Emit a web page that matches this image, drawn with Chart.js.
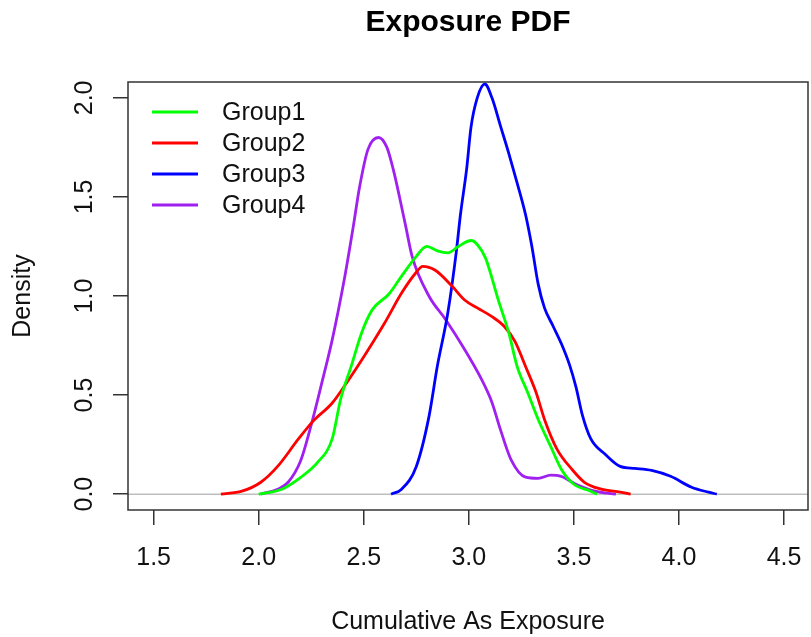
<!DOCTYPE html>
<html>
<head>
<meta charset="utf-8">
<script src="https://cdn.jsdelivr.net/npm/chart.js@4.4.1/dist/chart.umd.min.js"></script>
<style>
html, body { margin: 0; padding: 0; background: #fff; overflow: hidden; }
canvas { display: block; }
</style>
</head>
<body>
<canvas id="c" width="811" height="637" style="width:811px;height:637px"></canvas>
<script>
// ---- data ----
const seriesNames = ['Group1', 'Group2', 'Group3', 'Group4'];
const seriesColors = ['#00ff00', '#ff0000', '#0000ff', '#a020f0'];

const g1X = [2.00, 2.11, 2.20, 2.28, 2.35, 2.39, 2.44, 2.49, 2.54, 2.62, 2.68, 2.75, 2.80, 2.85, 2.90, 2.95, 3.01, 3.04, 3.08, 3.11, 3.14, 3.19, 3.23, 3.28, 3.33, 3.39, 3.44, 3.50, 3.58, 3.61];
const g1Y = [0, 0.025, 0.085, 0.16, 0.28, 0.48, 0.645, 0.815, 0.93, 1.01, 1.10, 1.20, 1.25, 1.228, 1.218, 1.25, 1.28, 1.26, 1.19, 1.09, 0.98, 0.815, 0.644, 0.513, 0.377, 0.24, 0.126, 0.05, 0.015, 0];

const g2X = [1.82, 1.92, 2.01, 2.09, 2.19, 2.26, 2.35, 2.43, 2.51, 2.60, 2.68, 2.75, 2.78, 2.84, 2.92, 2.98, 3.04, 3.11, 3.17, 3.22, 3.27, 3.32, 3.36, 3.42, 3.49, 3.55, 3.63, 3.72, 3.77];
const g2Y = [0, 0.015, 0.06, 0.14, 0.28, 0.37, 0.46, 0.58, 0.71, 0.865, 1.015, 1.12, 1.15, 1.13, 1.05, 0.98, 0.94, 0.896, 0.845, 0.77, 0.644, 0.513, 0.377, 0.226, 0.126, 0.06, 0.025, 0.01, 0];

const g3X = [2.63, 2.68, 2.75, 2.81, 2.85, 2.90, 2.94, 2.96, 2.99, 3.01, 3.04, 3.076, 3.11, 3.15, 3.19, 3.23, 3.27, 3.30, 3.33, 3.36, 3.40, 3.44, 3.48, 3.51, 3.54, 3.58, 3.65, 3.72, 3.79, 3.87, 3.96, 4.06, 4.14, 4.18];
const g3Y = [0, 0.025, 0.14, 0.39, 0.645, 0.915, 1.22, 1.41, 1.645, 1.85, 2.0, 2.07, 2.0, 1.86, 1.72, 1.57, 1.41, 1.25, 1.06, 0.94, 0.85, 0.76, 0.65, 0.54, 0.40, 0.28, 0.2, 0.14, 0.13, 0.12, 0.09, 0.035, 0.01, 0];

const g4X = [2.01, 2.09, 2.14, 2.20, 2.25, 2.30, 2.35, 2.41, 2.45, 2.48, 2.52, 2.57, 2.61, 2.64, 2.67, 2.70, 2.73, 2.81, 2.89, 2.98, 3.06, 3.11, 3.15, 3.20, 3.27, 3.33, 3.39, 3.44, 3.51, 3.60, 3.70];
const g4Y = [0, 0.025, 0.06, 0.17, 0.35, 0.56, 0.78, 1.10, 1.35, 1.55, 1.74, 1.80, 1.75, 1.64, 1.50, 1.35, 1.20, 1.00, 0.88, 0.73, 0.58, 0.463, 0.327, 0.176, 0.086, 0.08, 0.096, 0.09, 0.05, 0.015, 0];

const xTicks = [1.5, 2.0, 2.5, 3.0, 3.5, 4.0, 4.5];
const yTicks = [0.0, 0.5, 1.0, 1.5, 2.0];

const seriesX = [g1X, g2X, g3X, g4X];
const seriesY = [g1Y, g2Y, g3Y, g4Y];

// ---- chart ----
const FONT = "'Liberation Sans', Arial, Helvetica, sans-serif";
const TEXT = '#111';
const AXIS = '#333';

const datasets = seriesNames.map((name, i) => ({
  label: name,
  data: seriesX[i].map((x, j) => ({ x: x, y: seriesY[i][j] })),
  borderColor: seriesColors[i],
  backgroundColor: seriesColors[i],
  borderWidth: 2.8,
  pointRadius: 0,
  fill: false,
  cubicInterpolationMode: 'monotone'
}));

const decor = {
  id: 'decor',
  beforeDatasetsDraw(chart) {
    const { ctx, chartArea: a, scales: { y } } = chart;
    const y0 = y.getPixelForValue(0);
    ctx.save();
    ctx.strokeStyle = '#bebebe';
    ctx.lineWidth = 1.5;
    ctx.beginPath();
    ctx.moveTo(a.left, y0);
    ctx.lineTo(a.right, y0);
    ctx.stroke();
    ctx.restore();
  },
  afterDraw(chart) {
    const { ctx, chartArea: a, scales: { y } } = chart;
    ctx.save();
    // box
    ctx.strokeStyle = AXIS;
    ctx.lineWidth = 1.5;
    ctx.strokeRect(a.left, a.top, a.right - a.left, a.bottom - a.top);
    // y tick labels (rotated, R style)
    ctx.fillStyle = TEXT;
    ctx.font = '25px ' + FONT;
    ctx.textAlign = 'center';
    ctx.textBaseline = 'alphabetic';
    yTicks.forEach(v => {
      const py = y.getPixelForValue(v);
      ctx.save();
      ctx.translate(a.left - 36, py);
      ctx.rotate(-Math.PI / 2);
      ctx.fillText(v.toFixed(1), 0, 0);
      ctx.restore();
    });
    // legend
    const lx0 = a.left + 24, lx1 = a.left + 70, tx = a.left + 94;
    let ly = a.top + 30;
    chart.data.datasets.forEach(ds => {
      ctx.strokeStyle = ds.borderColor;
      ctx.lineWidth = 3;
      ctx.beginPath();
      ctx.moveTo(lx0, ly);
      ctx.lineTo(lx1, ly);
      ctx.stroke();
      ctx.fillStyle = TEXT;
      ctx.textAlign = 'left';
      ctx.textBaseline = 'middle';
      ctx.fillText(ds.label, tx, ly + 1);
      ly += 31;
    });
    ctx.restore();
  }
};

new Chart(document.getElementById('c'), {
  type: 'line',
  data: { datasets: datasets },
  plugins: [decor],
  options: {
    responsive: false,
    animation: false,
    events: [],
    layout: { padding: { left: 0, right: 3, top: 0, bottom: 0 } },
    plugins: {
      legend: { display: false },
      tooltip: { enabled: false },
      title: {
        display: true,
        text: 'Exposure PDF',
        fullSize: false,
        color: '#000',
        font: { family: FONT, size: 30, weight: 'bold' },
        padding: { top: 5, bottom: 41 }
      }
    },
    scales: {
      x: {
        type: 'linear',
        min: 1.378,
        max: 4.614,
        afterBuildTicks: s => { s.ticks = xTicks.map(v => ({ value: v })); },
        afterFit: s => { s.height = 127; s.paddingLeft = 0; s.paddingRight = 0; },
        grid: { drawOnChartArea: false, drawTicks: true, tickLength: 15, color: AXIS, lineWidth: 1.5 },
        border: { display: false },
        ticks: {
          font: { family: FONT, size: 25 },
          color: TEXT,
          padding: 18,
          maxRotation: 0,
          minRotation: 0,
          autoSkip: false,
          callback: v => Number(v).toFixed(1)
        },
        title: {
          display: true,
          text: 'Cumulative As Exposure',
          color: TEXT,
          font: { family: FONT, size: 25 },
          padding: { top: 3, bottom: 0 }
        }
      },
      y: {
        type: 'linear',
        min: -0.08,
        max: 2.08,
        afterBuildTicks: s => { s.ticks = yTicks.map(v => ({ value: v })); },
        afterFit: s => { s.width = 128; s.paddingTop = 0; s.paddingBottom = 0; },
        grid: { drawOnChartArea: false, drawTicks: true, tickLength: 15, color: AXIS, lineWidth: 1.5 },
        border: { display: false },
        ticks: { display: false },
        title: {
          display: true,
          text: 'Density',
          color: TEXT,
          font: { family: FONT, size: 25 },
          padding: { top: 8, bottom: 0 }
        }
      }
    }
  }
});
</script>
</body>
</html>
